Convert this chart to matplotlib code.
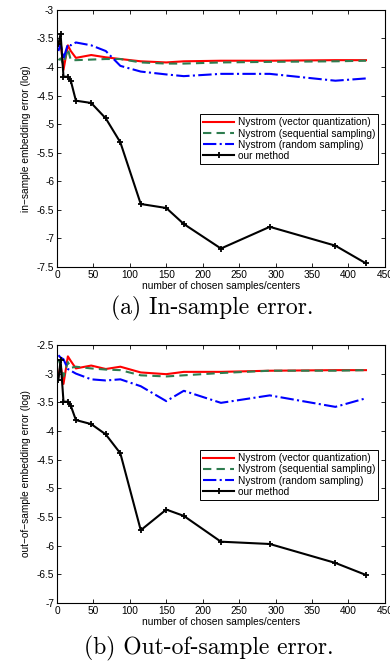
import matplotlib.pyplot as plt
from matplotlib.ticker import FormatStrFormatter

# number of chosen samples / centers
x_samples = [2, 5, 9, 15, 19, 26, 47, 67, 87, 115, 150, 174, 225, 292, 382, 424]

# (a) in-sample error (log)
in_vq = [-3.62, -3.55, -4.05, -3.62, -3.72, -3.84, -3.79, -3.83, -3.86, -3.90,
         -3.92, -3.90, -3.89, -3.89, -3.88, -3.88]
in_seq = [-3.88, -3.85, -3.95, -3.68, -3.88, -3.88, -3.87, -3.86, -3.86, -3.92,
          -3.94, -3.94, -3.92, -3.91, -3.90, -3.89]
in_rand = [-3.72, -3.60, -3.85, -3.60, -3.62, -3.57, -3.62, -3.72, -3.98, -4.08,
           -4.13, -4.16, -4.12, -4.12, -4.24, -4.20]
in_ours = [-3.60, -3.42, -4.17, -4.17, -4.24, -4.59, -4.63, -4.90, -5.32, -6.40,
           -6.47, -6.75, -7.18, -6.80, -7.13, -7.44]

# (b) out-of-sample error (log)
out_vq = [-3.05, -2.85, -3.18, -2.70, -2.78, -2.91, -2.86, -2.92, -2.88, -2.98,
          -3.01, -2.97, -2.97, -2.95, -2.94, -2.94]
out_seq = [-2.75, -2.85, -3.05, -2.80, -2.90, -2.88, -2.91, -2.93, -2.94, -3.03,
           -3.05, -3.03, -2.99, -2.95, -2.95, -2.94]
out_rand = [-2.68, -2.72, -2.75, -2.92, -2.95, -3.00, -3.10, -3.12, -3.10, -3.22,
            -3.48, -3.30, -3.51, -3.38, -3.58, -3.43]
out_ours = [-3.11, -2.77, -3.49, -3.49, -3.56, -3.81, -3.88, -4.06, -4.39, -5.73,
            -5.37, -5.48, -5.93, -5.97, -6.30, -6.51]

etiquetas = ["Nystrom (vector quantization)", "Nystrom (sequential sampling)",
             "Nystrom (random sampling)", "our method"]

plt.rcParams['font.family'] = ['Liberation Sans', 'DejaVu Sans']
FS = 7.3

fig = plt.figure(figsize=(3.9, 6.62), dpi=100)


def panel(pos, vq, seq, rand, ours, ylim, yticks, ylabel):
    ax = fig.add_axes(pos)
    ax.plot(x_samples, vq, '-', color='#ff0000', lw=1.5, label=etiquetas[0])
    ax.plot(x_samples, seq, '--', color='#2e7d4f', lw=1.5, dashes=(4, 2.5), label=etiquetas[1])
    ax.plot(x_samples, rand, '-.', color='#0000ff', lw=1.5, label=etiquetas[2])
    ax.plot(x_samples, ours, '-', color='k', lw=1.5, marker='+', ms=5, mew=1.3, label=etiquetas[3])
    ax.set_xlim(0, 450)
    ax.set_ylim(*ylim)
    ax.set_xticks(range(0, 451, 50))
    ax.set_yticks(yticks)
    ax.yaxis.set_major_formatter(FormatStrFormatter('%g'))
    ax.tick_params(direction='in', top=True, right=True, labelsize=FS, length=3, width=0.6, pad=2)
    for s in ax.spines.values():
        s.set_linewidth(0.8)
    ax.set_xlabel("number of chosen samples/centers", fontsize=FS, labelpad=1)
    ax.set_ylabel(ylabel, fontsize=FS, labelpad=4)
    leg = ax.legend(loc='lower right', bbox_to_anchor=(0.98, 0.40), fontsize=FS,
                    frameon=True, fancybox=False, edgecolor='k', framealpha=1,
                    handlelength=3.0, borderpad=0.3, labelspacing=0.12, handletextpad=0.4,
                    borderaxespad=0)
    leg.get_frame().set_linewidth(0.7)
    return ax


panel([0.146, 0.597, 0.841, 0.388], in_vq, in_seq, in_rand, in_ours,
      (-7.5, -3), [-7.5, -7, -6.5, -6, -5.5, -5, -4.5, -4, -3.5, -3],
      "in\u2212sample embedding error (log)")
panel([0.146, 0.089, 0.841, 0.390], out_vq, out_seq, out_rand, out_ours,
      (-7, -2.5), [-7, -6.5, -6, -5.5, -5, -4.5, -4, -3.5, -3, -2.5],
      "out\u2212of\u2212sample embedding error (log)")

fig.text(0.545, 1 - 308 / 662, "(a) In-sample error.", family='cmr10', fontsize=17,
         ha='center', va='center')
fig.text(0.535, 1 - 648 / 662, "(b) Out-of-sample error.", family='cmr10', fontsize=17,
         ha='center', va='center')

fig.savefig("out.png", dpi=100)
